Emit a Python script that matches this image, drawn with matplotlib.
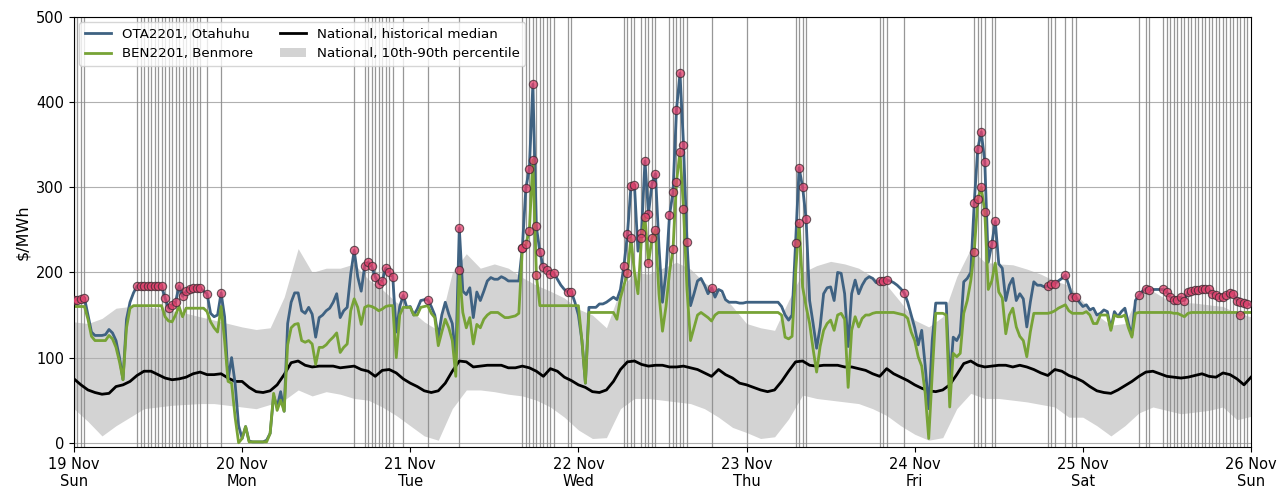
import numpy as np
import pandas as pd
import matplotlib
matplotlib.use("Agg")
import matplotlib.pyplot as plt
import matplotlib.dates as mdates
from matplotlib.patches import Patch
from matplotlib.lines import Line2D

# half-hourly nodal prices, 19 Nov 00:00 .. 26 Nov 00:00 ($/MWh)
ota = [
    168, 168, 169, 170, 150, 130, 126, 126, 126, 127, 133, 129,
    120, 100, 74, 145, 165, 176, 184, 184, 184, 184, 184, 184,
    184, 184, 170, 158, 162, 165, 184, 172, 178, 181, 182, 182,
    182, 178, 175, 152, 148, 150, 176, 148, 74, 100, 70, 20,
    5, 19, 2, 1, 1, 1, 1, 3, 11, 55, 42, 60,
    37, 140, 165, 176, 176, 155, 152, 159, 151, 124, 147, 150,
    155, 158, 165, 175, 147, 155, 159, 198, 226, 195, 178, 208,
    212, 207, 195, 187, 190, 205, 201, 195, 130, 160, 173, 159,
    160, 150, 157, 167, 168, 168, 160, 150, 124, 150, 165, 151,
    140, 100, 252, 178, 174, 182, 147, 177, 167, 178, 190, 194,
    192, 192, 195, 193, 190, 190, 190, 190, 229, 299, 322, 421,
    254, 224, 206, 203, 198, 199, 192, 185, 180, 177, 177, 165,
    150, 120, 70, 159, 159, 159, 163, 163, 165, 168, 171, 168,
    180, 208, 245, 301, 303, 225, 246, 331, 269, 304, 316, 230,
    165, 200, 267, 294, 391, 434, 350, 236, 161, 175, 190, 193,
    185, 175, 182, 171, 180, 178, 168, 165, 165, 165, 164, 164,
    165, 165, 165, 165, 165, 165, 165, 165, 165, 165, 160, 150,
    144, 150, 235, 323, 300, 263, 167, 140, 111, 136, 175, 182,
    183, 167, 200, 199, 175, 113, 175, 191, 175, 185, 192, 195,
    193, 188, 190, 190, 191, 190, 188, 185, 181, 176, 165, 150,
    135, 115, 132, 90, 40, 120, 164, 164, 164, 164, 70, 124,
    120, 128, 189, 193, 200, 282, 345, 365, 330, 212, 233, 260,
    210, 205, 167, 185, 193, 167, 175, 169, 136, 165, 189, 185,
    185, 183, 184, 186, 187, 190, 193, 197, 185, 171, 171, 165,
    160, 162, 156, 158, 150, 152, 156, 154, 134, 154, 148, 154,
    158, 140, 126, 167, 173, 178, 181, 179, 180, 180, 180, 180,
    177, 171, 168, 168, 171, 167, 177, 178, 179, 179, 180, 180,
    180, 175, 173, 171, 171, 174, 176, 175, 167, 165, 164, 163,
    162,
]
ben = [
    160, 160, 160, 160, 145, 125, 120, 120, 120, 120, 126, 122,
    112, 95, 74, 135, 158, 161, 161, 161, 161, 161, 161, 161,
    161, 161, 148, 143, 142, 150, 160, 148, 158, 158, 158, 158,
    158, 158, 154, 142, 135, 130, 160, 120, 72, 70, 30, 0,
    5, 19, 1, 1, 1, 1, 1, 1, 11, 58, 38, 50,
    37, 115, 135, 139, 140, 120, 118, 120, 116, 92, 112, 112,
    115, 120, 124, 129, 106, 112, 116, 155, 169, 159, 139, 159,
    161, 160, 158, 155, 157, 160, 161, 161, 100, 150, 159, 159,
    159, 150, 150, 159, 160, 161, 152, 147, 114, 130, 145, 135,
    120, 78, 203, 153, 135, 147, 116, 139, 135, 145, 150, 153,
    153, 153, 150, 147, 147, 148, 149, 152, 229, 233, 249, 332,
    197, 161, 161, 161, 161, 161, 161, 161, 161, 161, 161, 161,
    161, 120, 70, 153, 153, 153, 153, 153, 153, 153, 153, 145,
    170, 185, 199, 240, 200, 175, 240, 265, 211, 240, 250, 175,
    131, 160, 200, 227, 306, 342, 275, 180, 120, 135, 150, 153,
    150, 147, 143, 150, 153, 153, 153, 153, 153, 153, 153, 153,
    153, 153, 153, 153, 153, 153, 153, 153, 153, 153, 150, 124,
    122, 125, 200, 258, 183, 160, 140, 110, 83, 113, 132, 140,
    144, 132, 150, 152, 145, 65, 132, 148, 136, 146, 150, 150,
    152, 153, 153, 153, 153, 153, 153, 152, 151, 150, 146, 130,
    120, 101, 90, 58, 5, 80, 152, 152, 152, 150, 42, 105,
    101, 105, 152, 167, 190, 224, 286, 300, 271, 180, 190, 211,
    177, 170, 128, 150, 158, 136, 125, 120, 101, 130, 152, 152,
    152, 152, 152, 153, 155, 158, 160, 162, 155, 152, 152, 152,
    152, 154, 150, 140, 140, 150, 150, 150, 132, 150, 148, 148,
    150, 135, 124, 152, 153, 153, 153, 153, 153, 153, 153, 153,
    153, 153, 152, 152, 150, 148, 152, 153, 153, 153, 153, 153,
    153, 153, 153, 153, 153, 153, 153, 153, 153, 150, 153, 153,
    153,
]

# hourly national historical median
median = [
    75, 68, 62, 59, 57, 58, 66, 68, 72, 79, 84, 84, 80, 76, 74, 75, 77, 81, 83, 80, 80, 81, 76, 72,
    72, 65, 60, 59, 61, 68, 80, 94, 96, 91, 89, 90, 90, 90, 88, 89, 90, 86, 84, 78, 85, 86, 82, 75,
    70, 66, 61, 59, 61, 70, 84, 96, 95, 89, 90, 91, 91, 91, 88, 88, 90, 88, 84, 78, 87, 84, 77, 73,
    68, 65, 60, 59, 62, 72, 86, 95, 96, 92, 90, 91, 91, 89, 89, 90, 88, 86, 82, 78, 86, 80, 76, 70,
    68, 65, 62, 60, 62, 72, 84, 95, 96, 91, 90, 91, 91, 91, 89, 89, 87, 85, 81, 78, 87, 81, 77, 73,
    68, 64, 61, 60, 62, 68, 80, 93, 96, 91, 89, 90, 91, 91, 89, 91, 89, 86, 82, 79, 86, 84, 79, 76,
    72, 66, 61, 59, 58, 62, 67, 72, 78, 83, 84, 81, 78, 77, 76, 77, 79, 81, 78, 77, 82, 80, 75, 68, 77,
]

# two-hourly national 10th / 90th percentile
p90 = [
    142, 140, 146, 158, 160, 160, 158, 155, 152, 148, 144, 140,
    136, 133, 135, 171, 228, 200, 205, 205, 210, 192, 180, 165,
    156, 142, 132, 200, 222, 205, 210, 205, 194, 185, 178, 170,
    157, 150, 135, 180, 200, 198, 205, 212, 204, 188, 178, 160,
    140, 135, 132, 167, 200, 208, 213, 210, 205, 195, 185, 165,
    144, 136, 148, 195, 228, 212, 210, 209, 204, 198, 190, 185,
    166, 150, 138, 140, 175, 178, 168, 165, 164, 162, 160, 152, 148,
]
p10 = [
    40, 25, 8, 20, 30, 40, 42, 44, 45, 46, 46, 44,
    42, 40, 45, 50, 62, 55, 60, 57, 52, 50, 42, 32,
    20, 8, 3, 40, 62, 62, 60, 57, 55, 50, 42, 30,
    15, 5, 6, 40, 52, 52, 50, 48, 46, 40, 30, 18,
    12, 5, 7, 28, 56, 52, 50, 48, 46, 40, 32, 20,
    10, 3, 6, 40, 58, 52, 52, 50, 48, 45, 42, 30,
    30, 20, 8, 20, 35, 42, 38, 34, 36, 38, 42, 27, 31,
]

# half-hour periods flagged as high price
ota_flags = [0, 1, 2, 3] + list(range(18, 37)) + [38, 42,
             80, 83, 84, 85, 86, 87, 88, 89, 90, 91, 94,
             101, 110, 128, 129, 130, 131, 132, 133, 134, 135, 136, 137, 141, 142,
             157, 158, 159, 160, 162, 163, 164, 165, 166, 170, 171, 172, 173, 174, 175, 182,
             206, 207, 208, 209, 230, 231, 232, 237,
             257, 258, 259, 260, 262, 263, 278, 279, 280, 283, 285, 286,
             304, 306, 307] + list(range(311, 336))
ben_flags = [110, 128, 129, 130, 131, 132, 158, 159, 162, 163, 164, 165, 166,
             171, 172, 173, 174, 207, 257, 258, 259, 260, 333]
extra_flags = [192]

t_hh = pd.date_range("2023-11-19", periods=len(ota), freq="30min")
t_h = pd.date_range("2023-11-19", periods=len(median), freq="h")
t_2h = pd.date_range("2023-11-19", periods=len(p90), freq="2h")
ota = np.array(ota, dtype=float)
ben = np.array(ben, dtype=float)

c_ota = "#3f6282"
c_ben = "#77a336"
c_band = "#d3d3d3"

fig, ax = plt.subplots(figsize=(12.84, 4.88), dpi=100)
fig.subplots_adjust(left=0.0576, right=0.9743, top=0.9652, bottom=0.084)

ax.fill_between(t_2h, p10, p90, color=c_band, lw=0, zorder=1)
for i in sorted(set(ota_flags) | set(ben_flags) | set(extra_flags)):
    ax.axvline(t_hh[i], color="#8c8c8c", lw=0.9, alpha=0.9, zorder=1.6)
ax.plot(t_h, median, color="black", lw=2, zorder=2)
ax.plot(t_hh, ota, color=c_ota, lw=2, zorder=2.2)
ax.plot(t_hh, ben, color=c_ben, lw=2, zorder=2.3)
ax.scatter(t_hh[ota_flags], ota[ota_flags], s=36, color="#e2406c", alpha=0.75,
           edgecolors="#3a2a30", linewidths=0.8, zorder=3)
ax.scatter(t_hh[ben_flags], ben[ben_flags], s=36, color="#e2406c", alpha=0.75,
           edgecolors="#3a2a30", linewidths=0.8, zorder=3)

ax.set_xlim(t_hh[0], t_hh[-1])
ax.set_ylim(-5, 500)
ax.set_yticks(range(0, 501, 100))
ax.yaxis.grid(True, color="#b0b0b0", lw=0.8)
ax.xaxis.set_major_locator(mdates.DayLocator())
ax.xaxis.set_major_formatter(mdates.DateFormatter("%d %b\n%a"))
ax.tick_params(labelsize=10.5)
ax.set_ylabel(r"\$/MWh", fontsize=11.5)

handles = [
    Line2D([], [], color=c_ota, lw=2, label="OTA2201, Otahuhu"),
    Line2D([], [], color=c_ben, lw=2, label="BEN2201, Benmore"),
    Line2D([], [], color="black", lw=2, label="National, historical median"),
    Patch(facecolor=c_band, label="National, 10th-90th percentile"),
]
ax.legend(handles=handles, loc="upper left", ncol=2, fontsize=9.6,
          borderaxespad=0.4)

fig.savefig("out.png", dpi=100)
